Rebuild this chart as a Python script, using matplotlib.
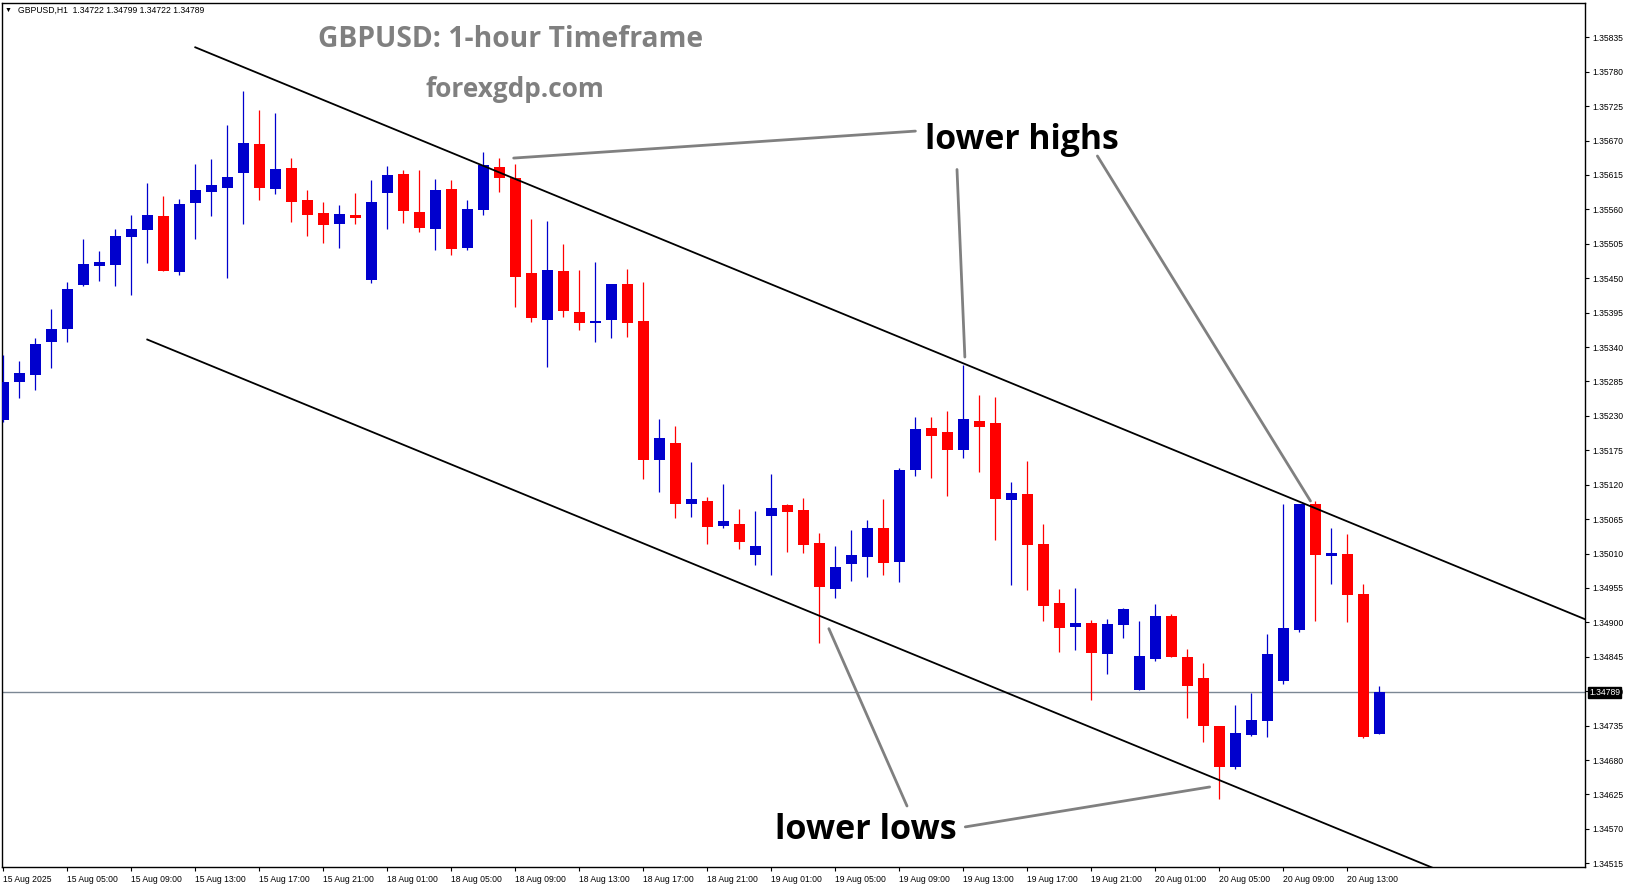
import numpy as np
import matplotlib
matplotlib.use("Agg")
import matplotlib.pyplot as plt

plt.rcParams['font.family'] = ['Liberation Sans', 'DejaVu Sans']

# GBPUSD H1 candles, 15 Aug 2025 01:00 .. 20 Aug 2025 15:00
opens = [1.35223, 1.35284, 1.35295, 1.35348, 1.35369, 1.35439, 1.35470, 1.35471, 1.35516, 1.35527,
         1.35549, 1.35460, 1.35570, 1.35588, 1.35594, 1.35618, 1.35664, 1.35593, 1.35626, 1.35575,
         1.35554, 1.35537, 1.35551, 1.35447, 1.35586, 1.35616, 1.35556, 1.35529, 1.35593, 1.35498,
         1.35559, 1.35628, 1.35610, 1.35458, 1.35383, 1.35462, 1.35396, 1.35378, 1.35383, 1.35441,
         1.35382, 1.35160, 1.35187, 1.35089, 1.35094, 1.35054, 1.35057, 1.35008, 1.35070, 1.35088,
         1.35080, 1.35027, 1.34953, 1.34993, 1.35005, 1.35051, 1.34997, 1.35144, 1.35211, 1.35204,
         1.35176, 1.35222, 1.35219, 1.35096, 1.35105, 1.35025, 1.34931, 1.34893, 1.34899, 1.34850,
         1.34896, 1.34792, 1.34841, 1.34910, 1.34845, 1.34811, 1.34734, 1.34669, 1.34720, 1.34742,
         1.34806, 1.34888, 1.35089, 1.35006, 1.35009, 1.34945, 1.34722]
highs = [1.35327, 1.35318, 1.35355, 1.35401, 1.35444, 1.35513, 1.35494, 1.35529, 1.35551, 1.35602,
         1.35581, 1.35577, 1.35632, 1.35640, 1.35695, 1.35749, 1.35719, 1.35714, 1.35642, 1.35591,
         1.35572, 1.35567, 1.35586, 1.35607, 1.35629, 1.35623, 1.35623, 1.35609, 1.35607, 1.35575,
         1.35652, 1.35642, 1.35632, 1.35545, 1.35541, 1.35505, 1.35463, 1.35476, 1.35441, 1.35465,
         1.35444, 1.35225, 1.35214, 1.35156, 1.35100, 1.35121, 1.35081, 1.35078, 1.35137, 1.35089,
         1.35099, 1.35043, 1.35022, 1.35048, 1.35064, 1.35097, 1.35147, 1.35228, 1.35228, 1.35238,
         1.35311, 1.35263, 1.35260, 1.35124, 1.35158, 1.35057, 1.34953, 1.34955, 1.34904, 1.34905,
         1.34923, 1.34902, 1.34929, 1.34913, 1.34858, 1.34835, 1.34734, 1.34768, 1.34787, 1.34881,
         1.35089, 1.35089, 1.35094, 1.35051, 1.35041, 1.34961, 1.34799]
lows = [1.35220, 1.35259, 1.35271, 1.35307, 1.35348, 1.35438, 1.35446, 1.35438, 1.35423, 1.35474,
        1.35461, 1.35455, 1.35513, 1.35549, 1.35450, 1.35537, 1.35575, 1.35585, 1.35540, 1.35518,
        1.35506, 1.35498, 1.35537, 1.35442, 1.35529, 1.35538, 1.35524, 1.35495, 1.35487, 1.35495,
        1.35551, 1.35588, 1.35404, 1.35380, 1.35308, 1.35388, 1.35367, 1.35348, 1.35355, 1.35356,
        1.35129, 1.35108, 1.35067, 1.35068, 1.35025, 1.35051, 1.35017, 1.34992, 1.34976, 1.35013,
        1.35011, 1.34867, 1.34939, 1.34966, 1.34973, 1.34976, 1.34965, 1.35134, 1.35131, 1.35102,
        1.35163, 1.35140, 1.35032, 1.34960, 1.34952, 1.34902, 1.34853, 1.34856, 1.34776, 1.34818,
        1.34875, 1.34792, 1.34838, 1.34845, 1.34747, 1.34709, 1.34618, 1.34666, 1.34719, 1.34717,
        1.34802, 1.34885, 1.34902, 1.34961, 1.34901, 1.34715, 1.34722]
closes = [1.35284, 1.35299, 1.35345, 1.35369, 1.35433, 1.35473, 1.35476, 1.35518, 1.35529, 1.35551,
          1.35462, 1.35569, 1.35591, 1.35599, 1.35612, 1.35666, 1.35594, 1.35624, 1.35572, 1.35551,
          1.35535, 1.35553, 1.35546, 1.35572, 1.35615, 1.35557, 1.35530, 1.35591, 1.35497, 1.35561,
          1.35631, 1.35610, 1.35452, 1.35386, 1.35463, 1.35398, 1.35378, 1.35382, 1.35441, 1.35378,
          1.35160, 1.35195, 1.35089, 1.35097, 1.35052, 1.35062, 1.35029, 1.35022, 1.35083, 1.35076,
          1.35024, 1.34957, 1.34989, 1.35008, 1.35051, 1.34995, 1.35144, 1.35209, 1.35198, 1.35176,
          1.35225, 1.35212, 1.35097, 1.35107, 1.35024, 1.34926, 1.34891, 1.34899, 1.34851, 1.34897,
          1.34921, 1.34846, 1.34910, 1.34845, 1.34798, 1.34734, 1.34669, 1.34723, 1.34744, 1.34850,
          1.34891, 1.35089, 1.35008, 1.35011, 1.34944, 1.34717, 1.34789]

bid = 1.34789
header = "GBPUSD,H1  1.34722 1.34799 1.34722 1.34789"

tick_pos = list(range(0, 85, 4))
tick_labels = ["15 Aug 2025", "15 Aug 05:00", "15 Aug 09:00", "15 Aug 13:00", "15 Aug 17:00",
               "15 Aug 21:00", "18 Aug 01:00", "18 Aug 05:00", "18 Aug 09:00", "18 Aug 13:00",
               "18 Aug 17:00", "18 Aug 21:00", "19 Aug 01:00", "19 Aug 05:00", "19 Aug 09:00",
               "19 Aug 13:00", "19 Aug 17:00", "19 Aug 21:00", "20 Aug 01:00", "20 Aug 05:00",
               "20 Aug 09:00", "20 Aug 13:00"]
price_ticks = np.round(np.arange(1.34515, 1.358351, 0.00055), 5)

# channel anchors (candle index, price)
upper_line = [(12, 1.35819), (81, 1.35093)]
lower_line = [(9, 1.35352), (76, 1.34648)]

W, H = 1631, 888
fig = plt.figure(figsize=(W / 100, H / 100), dpi=100)
ax = fig.add_axes([2 / W, 21.3 / H, 1583 / W, 863.7 / H])

x = np.arange(len(opens))
o = np.array(opens)
h = np.array(highs)
l = np.array(lows)
c = np.array(closes)
cols = np.where(c >= o, '#0000CD', '#FF0000')

ax.vlines(x, l, h, colors=cols, lw=0.9, zorder=3)
body_lo = np.minimum(o, c)
body_h = np.maximum(np.abs(c - o), 0.000016)
ax.bar(x, body_h, bottom=body_lo, width=0.69, color=cols, linewidth=0, zorder=4)

x0, x1 = -0.081, 98.86
y0, y1 = 1.345096, 1.358898
ax.set_xlim(x0, x1)
ax.set_ylim(y0, y1)

# channel rays
for (xa, pa), (xb, pb) in (upper_line, lower_line):
    slope = (pb - pa) / (xb - xa)
    ax.plot([xa, x1 + 5], [pa, pa + slope * (x1 + 5 - xa)], color='black', lw=1.3, zorder=5)

# bid line
ax.axhline(bid, color='#7b8794', lw=1.0, zorder=2)

# axes look
for s in ax.spines.values():
    s.set_color('black')
    s.set_linewidth(1.0)
ax.yaxis.tick_right()
ax.set_yticks(price_ticks)
ax.set_yticklabels([f"{p:.5f}" for p in price_ticks])
ax.set_xticks(tick_pos)
ax.set_xticklabels(tick_labels)
for lbl in ax.get_xticklabels():
    lbl.set_ha('left')
ax.tick_params(axis='both', direction='out', length=3, width=0.8, labelsize=6.2, colors='black', pad=2)
ax.tick_params(axis='x', pad=3)

# bid price box on the price scale
fig.text(1589 / W, 1 - 692.5 / H, f"{bid:.5f}", fontsize=6.2, color='white', va='center', ha='left',
         zorder=10, bbox=dict(boxstyle='square,pad=0.12', fc='black', ec='black'))

# header text
fig.text(5 / W, 1 - 10 / H, "\u25BC", fontsize=5, va='center', ha='left')
fig.text(18 / W, 1 - 10 / H, header, fontsize=6.2, va='center', ha='left')

# titles
fig.text(510.7 / W, 1 - 39.5 / H, "GBPUSD: 1-hour Timeframe", fontsize=20.3, color='#808080',
         fontweight='bold', family='Open Sans', ha='center', va='center')
fig.text(515 / W, 1 - 89.5 / H, "forexgdp.com", fontsize=18.9, color='#808080',
         fontweight='bold', family='Open Sans', ha='center', va='center')
fig.text(1021.5 / W, 1 - 140 / H, "lower highs", fontsize=24.3, color='black',
         fontweight='bold', family='Open Sans', ha='center', va='center')
fig.text(865.4 / W, 1 - 830 / H, "lower lows", fontsize=24.6, color='black',
         fontweight='bold', family='Open Sans', ha='center', va='center')

# annotation lines: start in figure pixels, end on the chart
arrows = [((915.4, 131.1), (31.9, highs[31])),
          ((957.0, 169.5), (60.1, highs[60] + 0.00013)),
          ((1097.4, 156.0), (81.7, highs[82])),
          ((907.0, 806.0), (51.6, 1.34890)),
          ((965.3, 826.9), (75.4, 1.34637))]
for (sx, sy), xy in arrows:
    ax.annotate('', xy=xy, xycoords='data', xytext=(sx, H - sy), textcoords='figure pixels',
                arrowprops=dict(arrowstyle='-', color='#808080', lw=2.0,
                                shrinkA=0, shrinkB=0), zorder=6)

fig.savefig("out.png", dpi=100)
